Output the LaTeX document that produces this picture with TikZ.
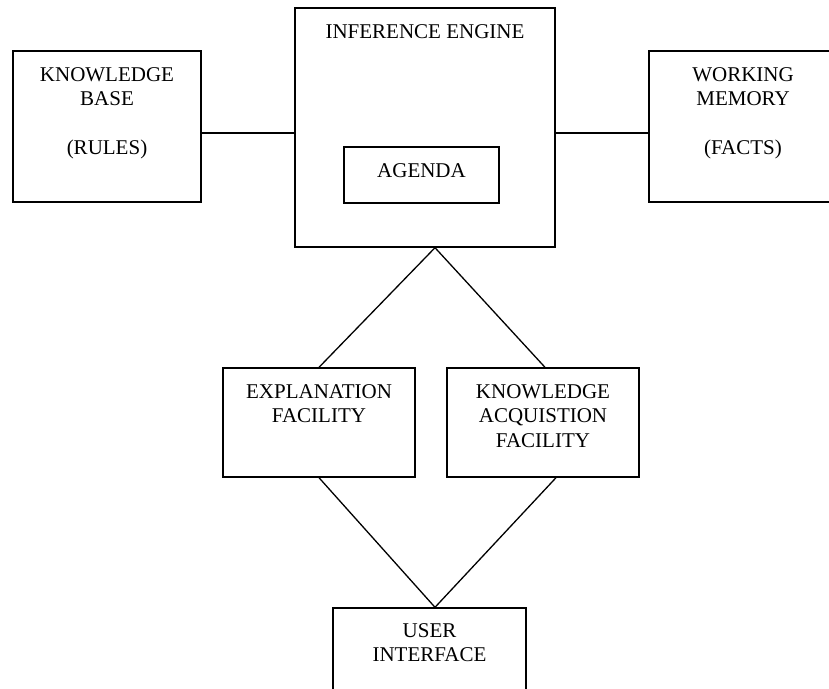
\documentclass[tikz,border=0pt]{standalone}
\usepackage{fontspec}
\setmainfont{Liberation Serif}
\begin{document}
\begin{tikzpicture}[x=1pt,y=-1pt,
  box/.style={draw,line width=1.4pt,rectangle,inner sep=0pt},
  caption/.style={anchor=north,inner sep=0pt,align=center,
    font=\fontsize{21}{24.5}\selectfont},
  wire/.style={line width=1.3pt}]
\useasboundingbox (0,0) rectangle (829,688);
\clip (0,0) rectangle (829,688);

% main blocks
\node[box,minimum width=188pt,minimum height=151pt] (kb) at (107,126.5) {};
\node[box,minimum width=260pt,minimum height=239pt] (ie) at (425,127.5) {};
\node[box,minimum width=155pt,minimum height=56pt] (ag) at (421.5,175) {};
\node[box,minimum width=188pt,minimum height=151pt] (wm) at (743,126.5) {};
\node[box,minimum width=192pt,minimum height=109pt] (ex) at (319,422.5) {};
\node[box,minimum width=192pt,minimum height=109pt] (ka) at (543,422.5) {};
\node[box,minimum width=193pt,minimum height=110pt] (ui) at (429.5,663) {};

% labels, first baseline about 30 below each top edge
\node[caption] (kbt) at ([yshift=-13.5pt]kb.north) {\strut KNOWLEDGE\\BASE\\[24pt](RULES)};
\node[caption] (iet) at ([yshift=-13.5pt]ie.north) {\strut INFERENCE ENGINE};
\node[caption] (agt) at ([yshift=-13.5pt]ag.north) {\strut AGENDA};
\node[caption] (wmt) at ([yshift=-13.5pt]wm.north) {\strut WORKING\\MEMORY\\[24pt](FACTS)};
\node[caption] (ext) at ([yshift=-13.5pt]ex.north) {\strut EXPLANATION\\FACILITY};
\node[caption] (kat) at ([yshift=-13.5pt]ka.north) {\strut KNOWLEDGE\\ACQUISTION\\FACILITY};
\node[caption] (uit) at ([yshift=-12.5pt]ui.north) {\strut USER\\INTERFACE};

% connectors
\draw[wire] ([yshift=-6.5pt]kb.east) -- ([yshift=-6.5pt]kb.east -| ie.west);
\draw[wire] ([yshift=-6.5pt]wm.west) -- ([yshift=-6.5pt]wm.west -| ie.east);
\coordinate (top) at ([xshift=10pt]ie.south);
\draw[wire] (ex.north) -- (top) -- ([xshift=2pt]ka.north);
\coordinate (bot) at ([xshift=5.5pt]ui.north);
\draw[wire] (ex.south) -- (bot) -- ([xshift=13pt]ka.south);
\end{tikzpicture}
\end{document}
